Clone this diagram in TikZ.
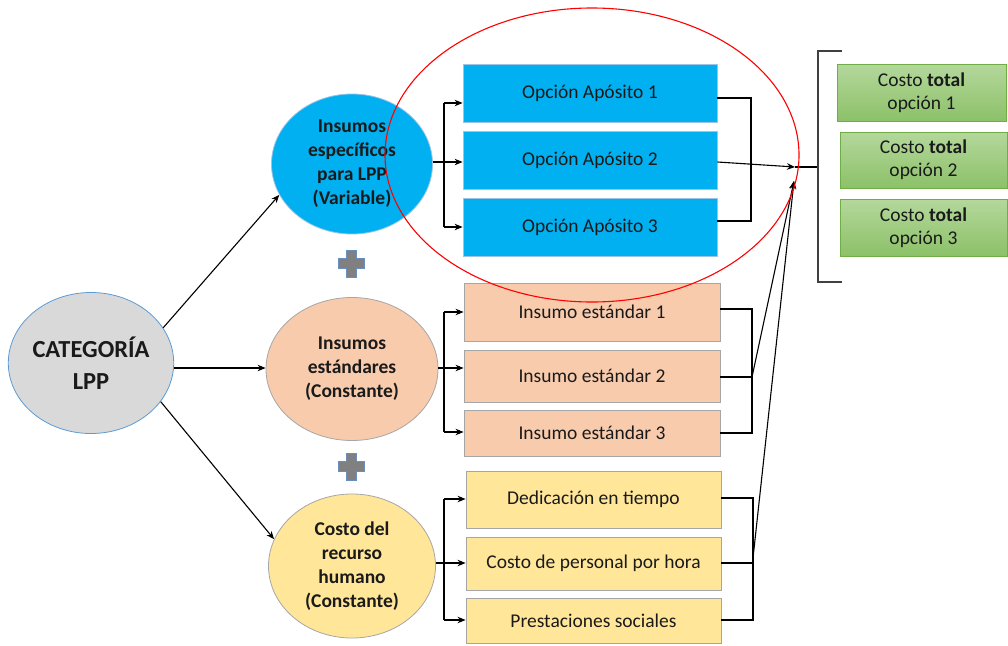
\documentclass[tikz,border=0pt]{standalone}
\usepackage{fontspec}
\setmainfont{Carlito}
\usetikzlibrary{arrows.meta,shapes.geometric}
\definecolor{catfill}{HTML}{D9D9D9}
\definecolor{catline}{HTML}{5B9BD5}
\definecolor{bluefill}{HTML}{00B0F0}
\definecolor{blueline}{HTML}{9DC3E6}
\definecolor{peachfill}{HTML}{F8CBAD}
\definecolor{yellowfill}{HTML}{FFE699}
\definecolor{greyline}{HTML}{A6A6A6}
\definecolor{greentop}{HTML}{B4D89C}
\definecolor{greenbot}{HTML}{8CC168}
\definecolor{greenline}{HTML}{70AD47}
\definecolor{plusfill}{HTML}{808080}
\definecolor{plusline}{HTML}{6C8EBF}
\definecolor{txt}{HTML}{1A1A1A}
\definecolor{brk}{HTML}{404040}
\begin{document}
\begin{tikzpicture}[x=1pt,y=-1pt,
  every node/.style={text=txt},
  bigell/.style={ellipse, inner sep=0pt, align=center, font=\fontsize{19.5}{24}\selectfont\bfseries, line width=0.8pt},
  boxb/.style={rectangle, inner sep=0pt, minimum width=254pt, minimum height=58pt, fill=bluefill, draw=blueline, line width=0.8pt, font=\fontsize{19.5}{23}\selectfont},
  boxp/.style={rectangle, inner sep=0pt, minimum width=256pt, fill=peachfill, draw=greyline, line width=0.9pt, font=\fontsize{19.5}{23}\selectfont},
  boxy/.style={rectangle, inner sep=0pt, minimum width=255pt, fill=yellowfill, draw=greyline, line width=0.9pt, font=\fontsize{19.5}{23}\selectfont},
  boxg/.style={rectangle, inner sep=0pt, minimum width=168pt, minimum height=57pt, top color=greentop, bottom color=greenbot, draw=greenline, line width=0.9pt, align=center, font=\fontsize{19.5}{23}\selectfont},
  conn/.style={draw=black, line width=1.1pt},
  arr/.style={conn, -{Stealth[length=8pt,width=6.5pt]}},
  plussign/.style={fill=plusfill, draw=plusline, line width=0.7pt}
]
\useasboundingbox (0,0) rectangle (1008,645);

% ellipses
\node[bigell, minimum width=164pt, minimum height=141pt, fill=catfill, draw=catline, font=\fontsize{24.5}{32}\selectfont\bfseries] (cat) at (91,363) {CATEGORÍA\\LPP};
\node[bigell, minimum width=161pt, minimum height=140pt, fill=bluefill, draw=blueline] (eb) at (352,164) {Insumos\\específicos\\para LPP\\(Variable)};
\node[bigell, minimum width=172pt, minimum height=143pt, fill=peachfill, draw=greyline] (ep) at (352,369) {Insumos\\estándares\\(Constante)};
\node[bigell, minimum width=167pt, minimum height=144pt, fill=yellowfill, draw=greyline] (ey) at (352,566) {Costo del\\recurso\\humano\\(Constante)};

% plus signs
\foreach \cy in {263,466}{
  \path[plussign] (346,\cy-13) -- (356,\cy-13) -- (356,\cy-5) -- (364,\cy-5) -- (364,\cy+5) -- (356,\cy+5) -- (356,\cy+14) -- (346,\cy+14) -- (346,\cy+5) -- (338,\cy+5) -- (338,\cy-5) -- (346,\cy-5) -- cycle;
}

% boxes
\node[boxb] (b1) at (590,93) {Opción Apósito 1};
\node[boxb] (b2) at (590,160) {Opción Apósito 2};
\node[boxb] (b3) at (590,227) {Opción Apósito 3};

\node[boxp, minimum height=58pt] (p1) at (592,312) {Insumo estándar 1};
\node[boxp, minimum height=52pt] (p2) at (592,376) {Insumo estándar 2};
\node[boxp, minimum height=46pt] (p3) at (592,433) {Insumo estándar 3};

\node[boxy, minimum height=57pt] (y1) at (593.5,499.5) {Dedicación en tiempo};
\node[boxy, minimum height=53pt] (y2) at (593.5,563.5) {Costo de personal por hora};
\node[boxy, minimum height=45pt] (y3) at (593.5,620.5) {Prestaciones sociales};

\node[boxg, minimum width=169pt] (g1) at (921.5,92.5) {Costo \textbf{total}\\opción 1};
\node[boxg, minimum width=167pt, minimum height=56pt] (g2) at (923.5,160) {Costo \textbf{total}\\opción 2};
\node[boxg, minimum width=167pt] (g3) at (923.5,227.5) {Costo \textbf{total}\\opción 3};

% arrows from category
\draw[arr] (cat.26) -- (eb.203);
\draw[arr] (cat.east |- 0,368) coordinate (cm) -- (ep.west |- cm);
\draw[arr] (cat.-29) -- (ey.161);

% left brackets
\coordinate (jb) at (444,162);
\coordinate (jb1) at (444,103);
\coordinate (jb3) at (444,227);
\draw[conn] (eb.east |- jb) -- (jb);
\draw[conn] (jb1) -- (jb3);
\draw[arr] (jb1) -- (b1.west |- jb1);
\draw[arr] (jb) -- (b2.west |- jb);
\draw[arr] (jb3) -- (b3.west |- jb3);

\coordinate (jp) at (444,368);
\coordinate (jp1) at (444,312);
\coordinate (jp3) at (444,432);
\draw[conn] (ep.east |- jp) -- (jp);
\draw[conn] (jp1) -- (jp3);
\draw[arr] (jp1) -- (p1.west |- jp1);
\draw[arr] (jp) -- (p2.west |- jp);
\draw[arr] (jp3) -- (p3.west |- jp3);

\coordinate (jy) at (444,563);
\coordinate (jy1) at (444,499);
\coordinate (jy3) at (444,620);
\draw[conn] (ey.east |- jy) -- (jy);
\draw[conn] (jy1) -- (jy3);
\draw[arr] (jy1) -- (y1.west |- jy1);
\draw[arr] (jy) -- (y2.west |- jy);
\draw[arr] (jy3) -- (y3.west |- jy3);

% right brackets
\coordinate (rb1) at (751,98);
\coordinate (rb3) at (751,221);
\draw[conn] (b1.east |- rb1) -- (rb1) -- (rb3) -- (b3.east |- rb3);
\coordinate (tipA) at (795,167);
\draw[arr] (b2.east |- 0,162) -- (tipA);

\coordinate (rp1) at (752,309);
\coordinate (rp2) at (752,377);
\coordinate (rp3) at (752,433);
\draw[conn] (p1.east |- rp1) -- (rp1) -- (rp3) -- (p3.east |- rp3);
\draw[conn] (p2.east |- rp2) -- (rp2);

\coordinate (ry1) at (753,498);
\coordinate (ry2) at (753,563);
\coordinate (ry3) at (753,620);
\draw[conn] (y1.east |- ry1) -- (ry1) -- (ry3) -- (y3.east |- ry3);
\draw[conn] (y2.east |- ry2) -- (ry2);

\coordinate (tipB) at (794,181);
\draw[arr] (rp2) -- (tipB);
\draw[arr] (753,558) coordinate (ryj) -- (tipB);

% big bracket
\coordinate (bb) at (818,167);
\draw[conn] (tipA) -- (bb);
\draw[draw=brk, line width=1.6pt] (842,51) -- (818,51) -- (818,282) -- (842,282);

% red highlight ellipse
\draw[red, line width=1.1pt] (592,155) ellipse [x radius=207, y radius=147];
\end{tikzpicture}
\end{document}
